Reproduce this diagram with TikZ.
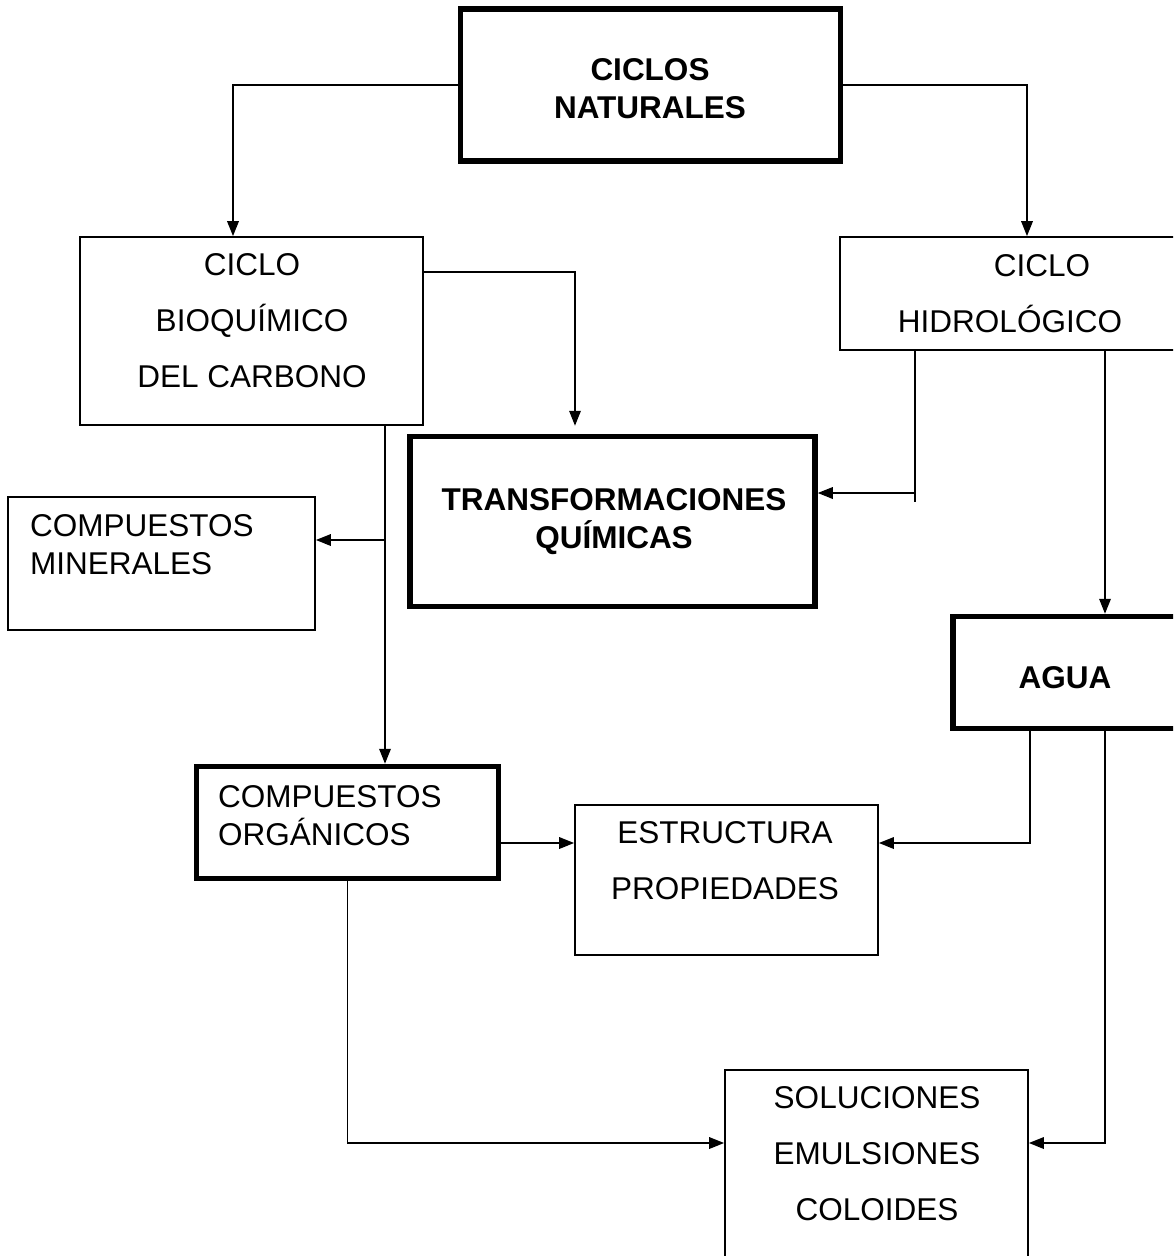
\documentclass[tikz,border=0pt]{standalone}
\usepackage{fontspec}
\setmainfont{Liberation Sans}
\usetikzlibrary{arrows.meta,positioning,calc}

\begin{document}
\begin{tikzpicture}[
    x=1pt, y=-1pt,
    box/.style={rectangle, draw, line width=1.7pt, inner sep=0pt},
    boldbox/.style={box, line width=5.5pt},
    txt/.style={inner sep=0pt, align=center, font=\fontsize{31.5}{56}\selectfont},
    tighttxt/.style={txt, font=\fontsize{31.5}{38}\selectfont},
    headtxt/.style={txt, font=\fontsize{31.5}{38}\selectfont\bfseries},
    line/.style={line width=1.8pt},
    arrow/.style={line, -{Triangle[length=15pt,width=11.5pt]}}
]
\useasboundingbox (0,0) rectangle (1173,1256);
\clip (0,0) rectangle (1173,1256);

% Boxes
\node[boldbox, minimum width=380pt, minimum height=152pt] (nat) at (650.5,85) {};
\node[box, minimum width=343pt, minimum height=188pt] (bioq) at (251.5,331) {};
\node[box, minimum width=350pt, minimum height=113pt] (hidro) at (1015,293.5) {};
\node[boldbox, minimum width=405pt, minimum height=170pt] (transf) at (612.5,521.5) {};
\node[box, minimum width=307pt, minimum height=133pt] (miner) at (161.5,563.5) {};
\node[boldbox, minimum width=237pt, minimum height=112pt] (agua) at (1071.5,672.5) {};
\node[boldbox, minimum width=302pt, minimum height=112pt] (org) at (347.5,822.5) {};
\node[box, minimum width=303pt, minimum height=150pt] (est) at (726.5,880) {};
\node[box, minimum width=303pt, minimum height=200pt] (sol) at (876.5,1170) {};

% Texts
\node[headtxt] (nat-t) at (650,89) {CICLOS\\NATURALES};
\node[txt] (bioq-t) at (252,321) {CICLO\\BIOQUÍMICO\\DEL CARBONO};
\node[txt] (hidro-t) at (1010,294) {\hspace*{64pt}CICLO\\HIDROLÓGICO};
\node[headtxt] (transf-t) at (614,522) {TRANSFORMACIONES\\QUÍMICAS};
\node[tighttxt, align=left, anchor=west] (miner-t) at (30,545) {COMPUESTOS\\MINERALES};
\node[headtxt] (agua-t) at (1065,678) {AGUA};
\node[tighttxt, align=left, anchor=west] (org-t) at (218,816) {COMPUESTOS\\ORGÁNICOS};
\node[txt] (est-t) at (725,861) {ESTRUCTURA\\PROPIEDADES};
\node[txt] (sol-t) at (877,1154) {SOLUCIONES\\EMULSIONES\\COLOIDES};

% Arrows from the top box
\draw[arrow] (nat.west) -| ([xshift=-18.5pt]bioq.north);
\draw[arrow] (nat.east) -| ([xshift=12pt]hidro.north);

% Carbon cycle
\draw[arrow, shorten >=8pt] ([yshift=59pt]bioq.east) -| ([xshift=-37.5pt]transf.north);
\coordinate (ccol) at ([xshift=37.5pt]org.north);
\draw[arrow] (ccol |- bioq.south) -- (ccol);
\coordinate (mj) at ([yshift=23.5pt]miner.east);
\draw[arrow] (mj -| ccol) -- (mj);

% Hydrological cycle
\coordinate (hcol) at ([xshift=-100pt]hidro.south);
\coordinate (tj) at ([yshift=28.5pt]transf.east);
\draw[line] (hcol) -- (hcol |- tj) -- ++(0,9);
\draw[arrow] (hcol |- tj) -- (tj);
\coordinate (acol) at ([xshift=33.5pt]agua.north);
\draw[arrow] (acol |- hidro.south) -- (acol);

% Water and organic compounds
\coordinate (oe) at ([yshift=-20.5pt]org.east);
\coordinate (se) at ([yshift=27pt]sol.east);
\draw[arrow] ([xshift=-41.5pt]agua.south) |- (oe -| est.east);
\draw[arrow] (acol |- agua.south) |- (se);
\draw[arrow] (oe) -- (oe -| est.west);
\draw[arrow] (org.south) |- (se -| sol.west);
\end{tikzpicture}
\end{document}
